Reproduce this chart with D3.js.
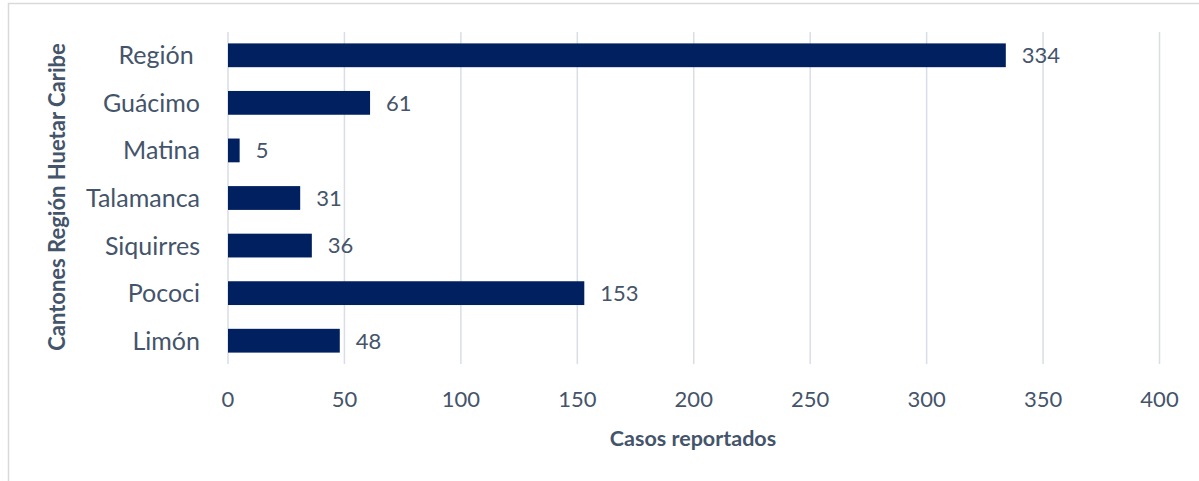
<!DOCTYPE html>
<html>
<head>
<meta charset="utf-8">
<script src="https://cdn.jsdelivr.net/npm/d3@7"></script>
<style>
  html, body { margin: 0; padding: 0; background: #fff; }
  svg { display: block; }
  text { font-family: Lato, "Open Sans", sans-serif; white-space: pre; }
</style>
</head>
<body>
<svg id="chart" width="1199" height="481"></svg>
<script>
const categories = ["Región ", "Guácimo", "Matina", "Talamanca", "Siquirres", "Pococi", "Limón"];
const values = [334, 61, 5, 31, 36, 153, 48];
const xTicks = [0, 50, 100, 150, 200, 250, 300, 350, 400];
const xTitle = "Casos reportados";
const yTitle = "Cantones Región Huetar Caribe";

const svg = d3.select("#chart");
const textColor = "#44546a";

// outer frame
svg.append("rect").attr("x", 8.5).attr("y", 3.5).attr("width", 1300).attr("height", 600)
  .attr("fill", "none").attr("stroke", "#d9d9d9").attr("stroke-width", 1.5);

const x = d3.scaleLinear().domain([0, 400]).range([228, 1159.5]);
const y = d3.scaleBand().domain(categories).range([31.5, 364.5]).paddingInner(0.5).paddingOuter(0.25);

// gridlines
svg.append("g").selectAll("line").data(xTicks).join("line")
  .attr("x1", d => x(d)).attr("x2", d => x(d))
  .attr("y1", 32).attr("y2", 364)
  .attr("stroke", "#d9dde6").attr("stroke-width", 1.5);

// bars
svg.append("g").selectAll("rect").data(categories).join("rect")
  .attr("x", x(0))
  .attr("y", d => y(d))
  .attr("width", (d, i) => x(values[i]) - x(0))
  .attr("height", y.bandwidth())
  .attr("fill", "#002060");

// value labels
svg.append("g").selectAll("text").data(categories).join("text")
  .attr("x", (d, i) => x(values[i]) + 16)
  .attr("y", d => y(d) + y.bandwidth() / 2)
  .attr("dy", "0.36em")
  .attr("fill", textColor)
  .attr("font-size", 22)
  .text((d, i) => values[i]);

// category labels
svg.append("g").selectAll("text").data(categories).join("text")
  .attr("x", 200)
  .attr("y", d => y(d) + y.bandwidth() / 2)
  .attr("dy", "0.36em")
  .attr("text-anchor", "end")
  .attr("fill", textColor)
  .attr("font-size", 25)
  .text(d => d);

// x tick labels
svg.append("g").selectAll("text").data(xTicks).join("text")
  .attr("x", d => x(d))
  .attr("y", 399)
  .attr("dy", "0.36em")
  .attr("text-anchor", "middle")
  .attr("fill", textColor)
  .attr("font-size", 22)
  .text(d => d);

// x title
svg.append("text")
  .attr("x", 693).attr("y", 438).attr("dy", "0.36em")
  .attr("text-anchor", "middle")
  .attr("fill", textColor)
  .attr("font-size", 21.5).attr("font-weight", "bold")
  .text(xTitle);

// y title
svg.append("text")
  .attr("transform", "translate(57,197) rotate(-90)")
  .attr("dy", "0.36em")
  .attr("text-anchor", "middle")
  .attr("fill", textColor)
  .attr("font-size", 22).attr("font-weight", "bold")
  .text(yTitle);
</script>
</body>
</html>
